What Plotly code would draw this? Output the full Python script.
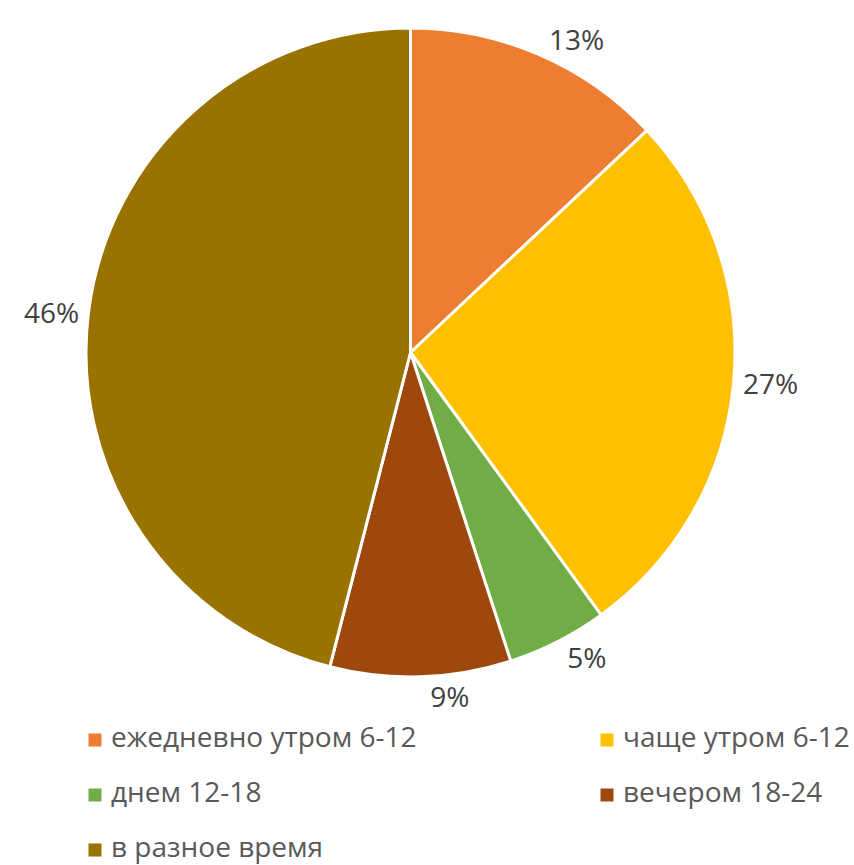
import plotly.graph_objects as go

# Time of day when the activity happens (share of respondents, %)
categories = [
    "ежедневно утром 6-12",
    "чаще утром 6-12",
    "днем 12-18",
    "вечером 18-24",
    "в разное время",
]
shares = [13, 27, 5, 9, 46]
colors = ["#ED7D31", "#FFC000", "#70AD47", "#9E480E", "#997300"]

W, H = 854, 865
FONT = "Open Sans"

fig = go.Figure()
fig.add_trace(go.Pie(
    labels=categories,
    values=shares,
    sort=False,
    direction="clockwise",
    rotation=0,
    marker=dict(colors=colors, line=dict(color="white", width=3)),
    texttemplate="%{value}%",
    textposition="outside",
    outsidetextfont=dict(family=FONT, size=28, color="#404040"),
    hoverinfo="label+percent",
    showlegend=False,
    domain=dict(x=[86 / W, 735 / W], y=[1 - 677 / H, 1 - 28 / H]),
))

# Legend laid out in two columns below the pie
col_marker_x = [95, 607]
col_text_x = [109, 621]
row_y = [740, 795, 850]
text_lift = 4  # raise the text so its x-height lines up with the square
shapes, annotations = [], []
for i, (name, col) in enumerate(zip(categories, colors)):
    r, c = divmod(i, 2)
    mx, my = col_marker_x[c], row_y[r]
    shapes.append(dict(
        type="rect", xref="paper", yref="paper",
        x0=(mx - 6.5) / W, x1=(mx + 6.5) / W,
        y0=1 - (my + 6.5) / H, y1=1 - (my - 6.5) / H,
        fillcolor=col, line=dict(width=0),
    ))
    annotations.append(dict(
        text=name, xref="paper", yref="paper",
        x=col_text_x[c] / W, y=1 - (my - text_lift) / H,
        xanchor="left", yanchor="middle", showarrow=False,
        font=dict(family=FONT, size=28, color="#595959"),
    ))

fig.update_layout(
    width=W, height=H,
    margin=dict(l=0, r=0, t=0, b=0),
    paper_bgcolor="white",
    plot_bgcolor="white",
    shapes=shapes,
    annotations=annotations,
)

fig.write_html("out.html")
